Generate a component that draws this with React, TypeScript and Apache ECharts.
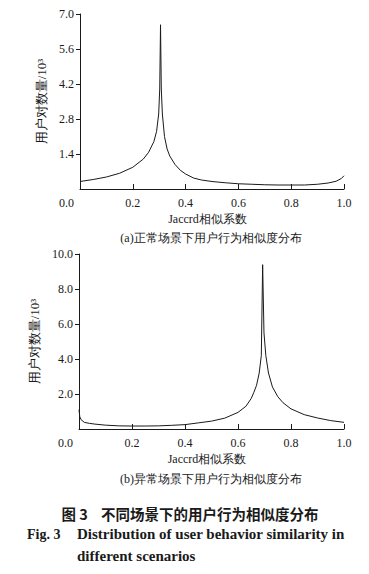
import React, { useEffect, useRef } from "react";
import * as echarts from "echarts";

// (a) normal scenario
const normalX = [0.0, 0.05, 0.1, 0.15, 0.2, 0.24, 0.26, 0.28, 0.29, 0.298, 0.302, 0.305, 0.308, 0.312, 0.32, 0.33, 0.34, 0.36, 0.38, 0.4, 0.43, 0.46, 0.5, 0.55, 0.6, 0.65, 0.7, 0.75, 0.8, 0.85, 0.9, 0.94, 0.97, 0.99, 1.0];
const normalY = [0.3, 0.38, 0.48, 0.63, 0.87, 1.2, 1.47, 1.9, 2.3, 3.0, 4.0, 6.57, 4.0, 3.0, 2.1, 1.6, 1.32, 0.98, 0.75, 0.6, 0.44, 0.36, 0.3, 0.25, 0.21, 0.19, 0.17, 0.16, 0.16, 0.16, 0.19, 0.24, 0.31, 0.42, 0.53];

// (b) abnormal scenario
const abnormalX = [0.0, 0.003, 0.008, 0.02, 0.04, 0.06, 0.1, 0.15, 0.2, 0.25, 0.3, 0.35, 0.4, 0.45, 0.5, 0.55, 0.6, 0.63, 0.65, 0.66, 0.67, 0.68, 0.688, 0.693, 0.698, 0.705, 0.715, 0.73, 0.75, 0.77, 0.8, 0.85, 0.9, 0.95, 1.0];
const abnormalY = [1.1, 0.7, 0.53, 0.38, 0.32, 0.28, 0.22, 0.18, 0.17, 0.17, 0.18, 0.21, 0.25, 0.35, 0.45, 0.62, 0.95, 1.3, 1.75, 2.1, 2.5, 3.2, 4.2, 9.39, 5.5, 4.2, 3.2, 2.4, 1.85, 1.5, 1.15, 0.82, 0.63, 0.48, 0.38];

const xAxisTitle = "Jaccrd相似系数";
const yAxisTitle = "用户对数量/10³";
const captionA = "(a)正常场景下用户行为相似度分布";
const captionB = "(b)异常场景下用户行为相似度分布";
const figTitleCn = "图 3    不同场景下的用户行为相似度分布";
const figTitleEn1 = "Fig. 3";
const figTitleEn2 = "Distribution of user behavior similarity in";
const figTitleEn3 = "different scenarios";

const SERIF = "Liberation Serif";
const INK = "#1a1a1a";

function makeX(gridIndex: number) {
  return {
    type: "value",
    gridIndex,
    min: 0,
    max: 1,
    interval: 0.2,
    name: xAxisTitle,
    nameLocation: "middle",
    nameGap: 24,
    nameTextStyle: { fontFamily: SERIF, fontSize: 12, color: INK, padding: [0, 9, 0, 0] },
    axisLine: { show: true, onZero: false, lineStyle: { color: INK, width: 1 } },
    axisTick: { show: true, inside: true, length: 5, lineStyle: { color: INK } },
    splitLine: { show: false },
    axisLabel: {
      fontFamily: SERIF,
      fontSize: 12,
      color: INK,
      margin: 8,
      formatter: (v: number) => (v === 0 ? "{o|0.0}" : v.toFixed(1)),
      rich: { o: { fontFamily: SERIF, fontSize: 12, color: INK, padding: [0, 27, 0, 0] } },
    },
  };
}

function makeY(gridIndex: number, max: number, interval: number) {
  return {
    type: "value",
    gridIndex,
    min: 0,
    max,
    interval,
    name: yAxisTitle,
    nameLocation: "middle",
    nameRotate: 90,
    nameGap: 30,
    nameTextStyle: { fontFamily: SERIF, fontSize: 13, color: INK },
    axisLine: { show: true, lineStyle: { color: INK, width: 1 } },
    axisTick: { show: true, inside: false, length: 4, lineStyle: { color: INK } },
    splitLine: { show: false },
    axisLabel: {
      fontFamily: SERIF,
      fontSize: 12,
      color: INK,
      margin: 6,
      showMinLabel: false,
      formatter: (v: number) => (v === 0 ? "" : v.toFixed(1)),
    },
  };
}

export default function App() {
  const ref = useRef<HTMLDivElement>(null);
  useEffect(() => {
    if (!ref.current) return;
    const chart = echarts.init(ref.current, undefined, { renderer: "svg" });
    const dataA = normalX.map((x, i) => [x, normalY[i]]);
    const dataB = abnormalX.map((x, i) => [x, abnormalY[i]]);
    chart.setOption({
      animation: false,
      backgroundColor: "#ffffff",
      textStyle: { fontFamily: SERIF },
      grid: [
        { left: 80, top: 14, width: 264, height: 175 },
        { left: 79, top: 254, width: 265, height: 175 },
      ],
      xAxis: [makeX(0), makeX(1)],
      yAxis: [makeY(0, 7, 1.4), makeY(1, 10, 2)],
      series: [
        {
          type: "line",
          xAxisIndex: 0,
          yAxisIndex: 0,
          data: dataA,
          showSymbol: false,
          lineStyle: { color: INK, width: 1 },
        },
        {
          type: "line",
          xAxisIndex: 1,
          yAxisIndex: 1,
          data: dataB,
          showSymbol: false,
          lineStyle: { color: INK, width: 1 },
        },
      ],
      graphic: [
        {
          type: "text",
          x: 211,
          y: 238,
          style: { text: captionA, fontFamily: SERIF, fontSize: 12, fill: INK, align: "center", verticalAlign: "middle" },
        },
        {
          type: "text",
          x: 211,
          y: 479,
          style: { text: captionB, fontFamily: SERIF, fontSize: 12, fill: INK, align: "center", verticalAlign: "middle" },
        },
        {
          type: "text",
          x: 190,
          y: 513,
          style: { text: figTitleCn, fontFamily: "Noto Sans CJK SC", fontWeight: "bold", fontSize: 14.5, fill: INK, align: "center", verticalAlign: "middle" },
        },
        {
          type: "text",
          x: 27,
          y: 534,
          style: { text: figTitleEn1, fontFamily: SERIF, fontWeight: "bold", fontSize: 14, fill: INK, align: "left", verticalAlign: "middle" },
        },
        {
          type: "text",
          x: 77,
          y: 534,
          style: { text: figTitleEn2, fontFamily: SERIF, fontWeight: "bold", fontSize: 15, fill: INK, align: "left", verticalAlign: "middle" },
        },
        {
          type: "text",
          x: 77,
          y: 556,
          style: { text: figTitleEn3, fontFamily: SERIF, fontWeight: "bold", fontSize: 15, fill: INK, align: "left", verticalAlign: "middle" },
        },
      ],
    });
    return () => chart.dispose();
  }, []);
  return (
    <div
      ref={ref}
      style={{ position: "absolute", left: 0, top: 0, width: 369, height: 574, background: "#fff" }}
    />
  );
}
